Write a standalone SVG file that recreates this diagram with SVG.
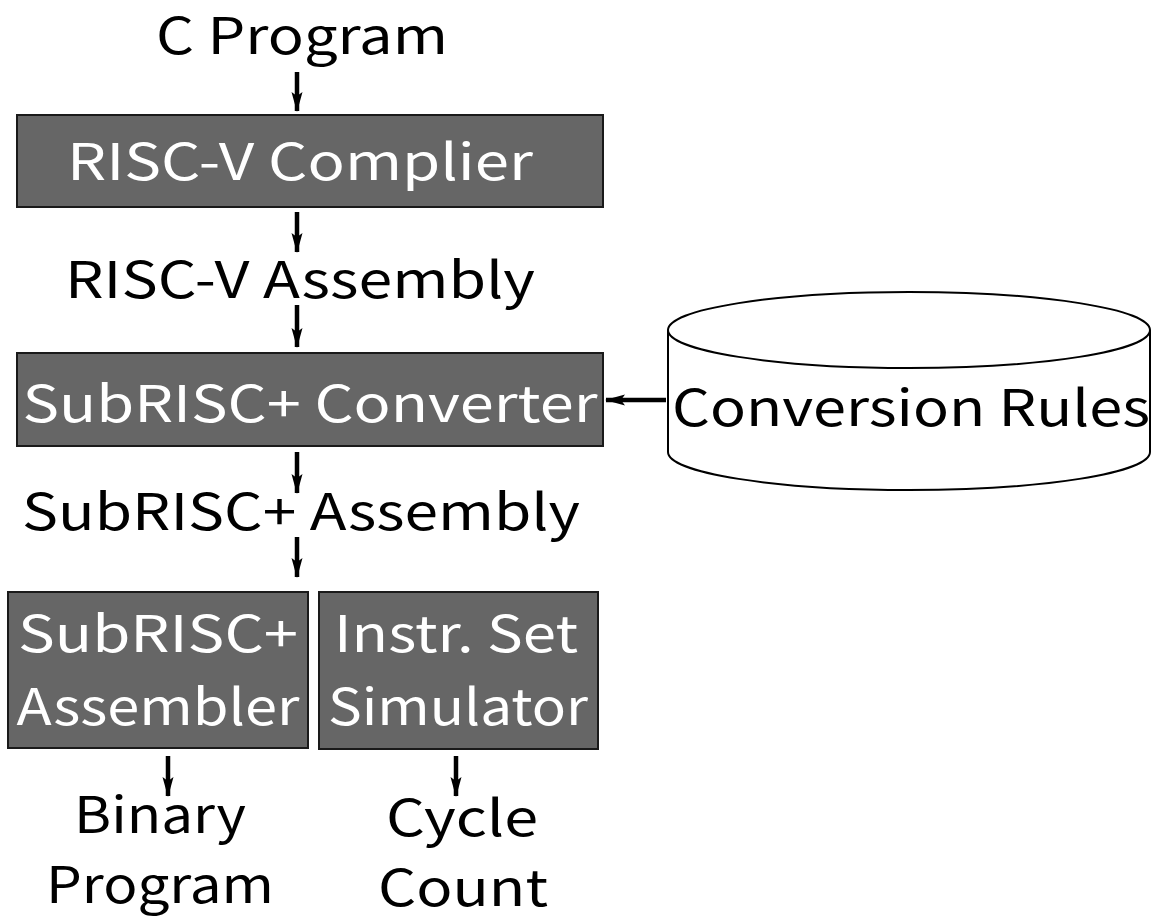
<svg xmlns="http://www.w3.org/2000/svg" width="1156" height="920" viewBox="0 0 1156 920">
<defs>
<marker id="ah" viewBox="0 0 20 12" refX="19" refY="6" markerWidth="20" markerHeight="12" orient="auto" markerUnits="userSpaceOnUse">
<path d="M0,0.5 L20,6 L0,11.5 L4,6 z" fill="#000"/>
</marker>
<style>
.box{fill:#666666;stroke:#1a1a1a;stroke-width:2}
.wt{fill:#fff;font-family:"Noto Sans CJK JP","Noto Sans",sans-serif;font-size:50px;text-anchor:middle}
.bt{fill:#000;font-family:"Noto Sans CJK JP","Noto Sans",sans-serif;font-size:50px;text-anchor:middle}
.ar{stroke:#000;stroke-width:4.5;fill:none;marker-end:url(#ah)}
</style>
</defs>
<rect width="1156" height="920" fill="#fff"/>
<g id="c-program"><text class="bt" x="302" y="54" textLength="292" lengthAdjust="spacingAndGlyphs">C Program</text></g>
<g id="compiler"><rect class="box" x="17" y="115" width="586" height="92"/><text class="wt" x="300" y="180" textLength="466" lengthAdjust="spacingAndGlyphs">RISC-V Complier</text></g>
<g id="riscv-asm"><text class="bt" x="300" y="298" textLength="470" lengthAdjust="spacingAndGlyphs">RISC-V Assembly</text></g>
<g id="converter"><rect class="box" x="17" y="353" width="586" height="93"/><text class="wt" x="310" y="422" textLength="575" lengthAdjust="spacingAndGlyphs">SubRISC+ Converter</text></g>
<g id="subrisc-asm"><text class="bt" x="301" y="530" textLength="558" lengthAdjust="spacingAndGlyphs">SubRISC+ Assembly</text></g>
<g id="assembler"><rect class="box" x="8" y="592" width="300" height="156"/><text class="wt" x="158" y="652" textLength="280" lengthAdjust="spacingAndGlyphs">SubRISC+</text><text class="wt" x="158" y="725" textLength="283" lengthAdjust="spacingAndGlyphs">Assembler</text></g>
<g id="simulator"><rect class="box" x="319" y="592" width="279" height="157"/><text class="wt" x="456" y="652" textLength="244" lengthAdjust="spacingAndGlyphs">Instr. Set</text><text class="wt" x="458" y="725" textLength="260" lengthAdjust="spacingAndGlyphs">Simulator</text></g>
<g id="binary"><text class="bt" x="160" y="833" textLength="172" lengthAdjust="spacingAndGlyphs">Binary</text><text class="bt" x="160" y="903" textLength="228" lengthAdjust="spacingAndGlyphs">Program</text></g>
<g id="cycle"><text class="bt" x="462" y="836" textLength="152" lengthAdjust="spacingAndGlyphs">Cycle</text><text class="bt" x="463" y="906" textLength="170" lengthAdjust="spacingAndGlyphs">Count</text></g>
<g id="rules">
<path d="M668,330 L668,452 A241,38 0 0 0 1150,452 L1150,330" fill="#fff" stroke="#000" stroke-width="2"/>
<ellipse cx="909" cy="330" rx="241" ry="38" fill="#fff" stroke="#000" stroke-width="2"/>
<text class="bt" x="911" y="426" textLength="478" lengthAdjust="spacingAndGlyphs">Conversion Rules</text>
</g>
<g id="connectors">
<line class="ar" x1="297" y1="72" x2="297" y2="111"/>
<line class="ar" x1="297" y1="212" x2="297" y2="252"/>
<line class="ar" x1="297" y1="305" x2="297" y2="347"/>
<line class="ar" x1="297" y1="452" x2="297" y2="493"/>
<line class="ar" x1="297" y1="537" x2="297" y2="577"/>
<line class="ar" x1="168" y1="756" x2="168" y2="796"/>
<line class="ar" x1="456" y1="756" x2="456" y2="796"/>
<line class="ar" x1="666" y1="400" x2="606" y2="400"/>
</g>
</svg>
